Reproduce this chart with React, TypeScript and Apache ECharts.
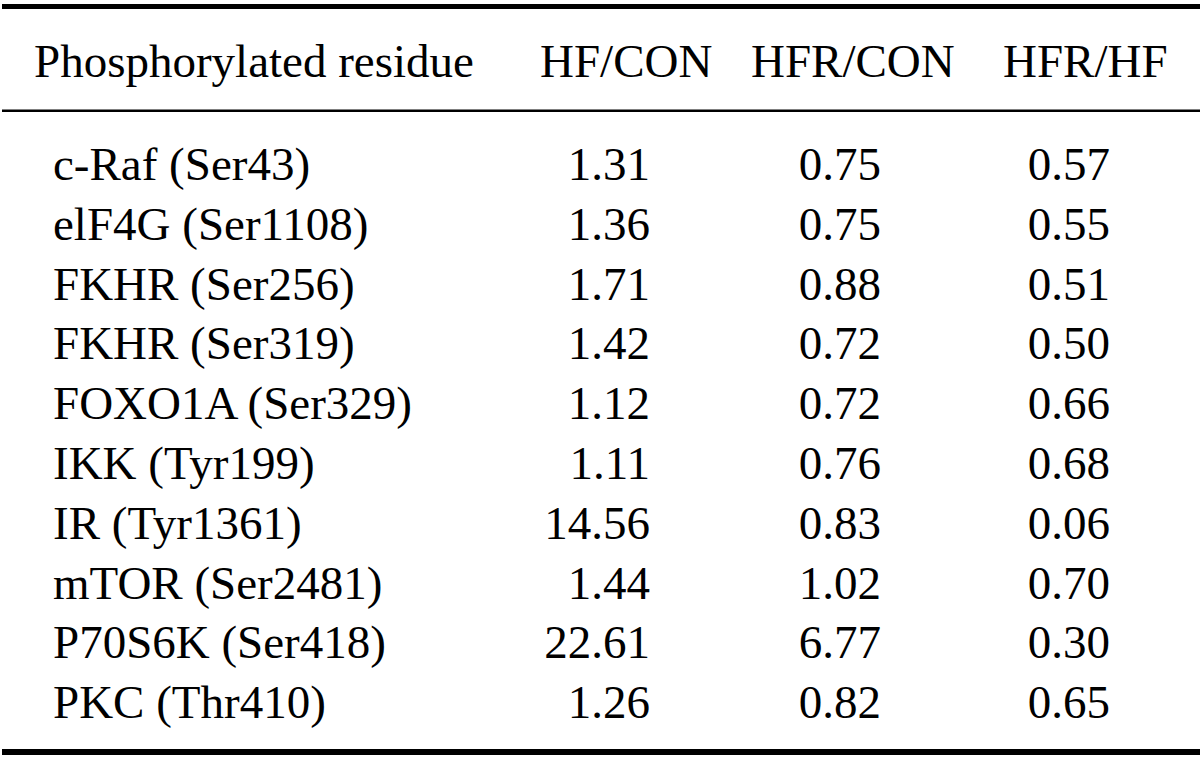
import React, { useEffect, useRef } from "react";
import * as echarts from "echarts";

const headers = ["Phosphorylated residue", "HF/CON", "HFR/CON", "HFR/HF"];
const residues = [
  "c-Raf (Ser43)",
  "elF4G (Ser1108)",
  "FKHR (Ser256)",
  "FKHR (Ser319)",
  "FOXO1A (Ser329)",
  "IKK (Tyr199)",
  "IR (Tyr1361)",
  "mTOR (Ser2481)",
  "P70S6K (Ser418)",
  "PKC (Thr410)",
];
const hfCon = [1.31, 1.36, 1.71, 1.42, 1.12, 1.11, 14.56, 1.44, 22.61, 1.26];
const hfrCon = [0.75, 0.75, 0.88, 0.72, 0.72, 0.76, 0.83, 1.02, 6.77, 0.82];
const hfrHf = [0.57, 0.55, 0.51, 0.5, 0.66, 0.68, 0.06, 0.7, 0.3, 0.65];

const W = 1200;
const H = 758;
const FONT = "'Liberation Serif', 'Times New Roman', Times, serif";
const FS = 47;

export default function App() {
  const ref = useRef<HTMLDivElement>(null);
  useEffect(() => {
    document.body.style.margin = "0";
    if (!ref.current) return;
    const chart = echarts.init(ref.current, null, { renderer: "svg" });

    const txt = (text: string, x: number, y: number, align: string) => ({
      type: "text",
      x,
      y,
      silent: true,
      style: {
        text,
        fill: "#000",
        fontSize: FS,
        fontFamily: FONT,
        fontWeight: "normal",
        align,
        verticalAlign: "middle",
      },
    });

    const elements: any[] = [];
    // rules
    elements.push({ type: "rect", shape: { x: 2, y: 4, width: W - 2, height: 5 }, style: { fill: "#000" }, silent: true });
    elements.push({ type: "rect", shape: { x: 2, y: 109.5, width: W - 2, height: 2.5 }, style: { fill: "#000" }, silent: true });
    elements.push({ type: "rect", shape: { x: 2, y: 749, width: W - 2, height: 6 }, style: { fill: "#000" }, silent: true });

    const headerY = 61;
    elements.push(txt(headers[0], 34, headerY, "left"));
    elements.push(txt(headers[1], 540, headerY, "left"));
    elements.push(txt(headers[2], 751, headerY, "left"));
    elements.push(txt(headers[3], 1003, headerY, "left"));

    const row0 = 164;
    const step = 59.8;
    residues.forEach((r, i) => {
      const y = row0 + i * step;
      elements.push(txt(r, 53, y, "left"));
      elements.push(txt(hfCon[i].toFixed(2), 650, y, "right"));
      elements.push(txt(hfrCon[i].toFixed(2), 881, y, "right"));
      elements.push(txt(hfrHf[i].toFixed(2), 1110, y, "right"));
    });

    chart.setOption({
      animation: false,
      backgroundColor: "#fff",
      graphic: { elements },
    });
    return () => chart.dispose();
  }, []);
  return <div ref={ref} style={{ width: W, height: H }} />;
}
